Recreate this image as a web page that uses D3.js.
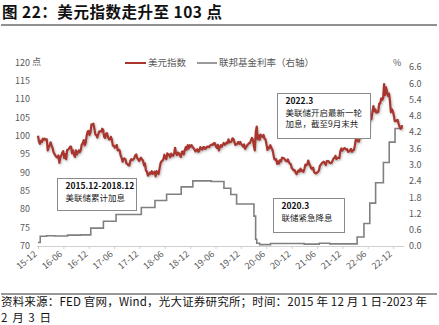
<!DOCTYPE html>
<html>
<head>
<meta charset="utf-8">
<script src="https://cdn.jsdelivr.net/npm/d3@7/dist/d3.min.js"></script>
<style>
  html, body { margin: 0; padding: 0; background: #fff; }
  svg { display: block; }
  text { font-family: "Noto Sans CJK SC", "Noto Sans", sans-serif; }
</style>
</head>
<body>
<svg id="chart" width="439" height="325"></svg>
<script>
// US dollar index, weekly (Tuesdays) from 2015-12-01
const dxy2015 = [100.0, 98.4, 97.8, 98.6, 98.3];
const dxy2016 = [
  99.2, 98.9, 99.2, 98.9,
  99.0, 96.0, 96.9, 97.4,
  98.2, 97.3, 96.6, 95.5, 95.0,
  94.5, 94.2, 94.0, 94.6,
  92.6, 94.1, 94.6, 95.4, 95.8,
  93.9, 95.0, 93.6, 96.1,
  96.2, 96.5, 97.0, 97.0,
  95.2, 96.0, 94.8, 94.2, 96.0,
  94.9, 95.4, 96.0, 95.5,
  96.1, 97.6, 97.9, 98.8,
  97.4, 98.0, 99.9, 101.1, 101.3,
  100.2, 100.9, 103.1, 103.0
];
const dxy2017 = [
  103.3, 101.9, 100.3, 100.2, 99.5,
  100.4, 101.2, 101.2, 101.1,
  101.9, 101.6, 99.7, 99.4,
  100.5, 100.7, 99.6, 99.0,
  99.0, 99.7, 98.9, 97.3, 97.3,
  96.7, 97.0, 97.5, 96.0,
  96.2, 96.0, 94.6, 94.0,
  92.9, 93.6, 93.8, 93.5, 92.4,
  92.3, 91.9, 91.9, 93.2,
  93.6, 93.3, 93.5, 93.9, 94.6,
  94.9, 93.9, 93.6, 93.1,
  93.6, 94.0, 93.5, 93.2
];
const dxy2018 = [
  91.9, 92.4, 90.5, 90.2, 89.1,
  89.4, 89.9, 89.6, 90.3,
  89.6, 89.8, 90.2, 88.9,
  90.3, 89.8, 89.5, 91.0,
  92.4, 93.0, 93.2, 93.6, 94.8,
  93.9, 93.6, 95.2, 94.7,
  94.8, 94.1, 95.1, 94.6, 94.5,
  95.1, 96.7, 95.2, 94.7,
  95.4, 95.2, 94.6, 94.2,
  95.6, 95.7, 94.9, 96.0, 96.9,
  96.2, 97.4, 96.5, 97.4,
  97.0, 97.4, 96.9, 96.6
];
const dxy2019 = [
  96.2, 95.7, 96.0, 96.3, 95.6,
  95.9, 96.9, 96.5, 96.2,
  96.9, 96.9, 96.4, 96.6,
  97.0, 97.0, 96.9, 97.3, 97.5,
  97.6, 97.5, 98.0, 97.9,
  97.1, 96.7, 97.5, 96.0,
  96.8, 97.4, 97.0, 97.6, 98.0,
  97.5, 97.7, 98.2, 98.0,
  99.0, 98.2, 98.3, 98.4,
  99.3, 99.1, 98.3, 97.5, 97.7,
  97.8, 98.3, 97.8, 98.3,
  97.7, 97.4, 97.0, 97.6, 96.4
];
const dxy2020 = [
  96.9, 97.3, 97.6, 98.0,
  98.0, 98.7, 99.4, 99.0,
  97.2, 96.0, 101.0, 102.5, 99.0,
  100.1, 98.9, 100.3, 99.9,
  99.7, 100.2, 99.2, 99.0,
  97.7, 96.1, 96.8, 96.6, 97.4,
  96.7, 96.3, 95.1, 93.7,
  93.4, 93.6, 92.3, 93.0,
  92.4, 93.3, 93.0, 94.0, 93.9,
  93.8, 93.5, 93.1, 93.0,
  93.5, 92.8, 92.4, 92.2,
  91.2, 90.9, 90.5, 90.6, 89.9
];
const dxy2021 = [
  89.5, 90.1, 90.5, 90.2,
  91.0, 90.4, 90.5, 90.1,
  90.9, 92.1, 91.9, 92.2, 93.2,
  92.3, 91.8, 91.1, 90.9,
  91.3, 90.1, 89.8, 89.7,
  89.9, 90.1, 90.5, 91.8, 92.1,
  92.5, 92.7, 92.9, 92.4,
  92.0, 93.0, 93.1, 93.0, 92.6,
  92.5, 92.6, 93.2, 93.8,
  94.0, 94.5, 93.6, 93.9,
  94.0, 93.9, 95.8, 96.5, 95.9,
  96.3, 96.6, 96.5, 96.2
];
const dxy2022 = [
  96.3, 95.6, 95.7, 96.0,
  96.4, 95.6, 96.0, 96.1,
  97.4, 99.1, 98.8, 98.5, 98.4,
  99.4, 100.3, 101.0, 102.3,
  103.4, 103.9, 103.3, 101.9, 101.8,
  102.3, 105.5, 104.4, 104.5,
  106.5, 108.1, 106.7, 107.2,
  106.3, 106.4, 106.5, 108.8, 108.8,
  110.2, 109.8, 110.2, 114.1,
  111.1, 113.2, 112.0, 110.9,
  111.5, 109.6, 106.4, 107.2, 106.7,
  105.6, 104.0, 104.0, 104.2
];
const dxy2023 = [104.3, 103.2, 102.4, 101.9, 102.1];
const dxyLast = { date: "2023-02-03", value: 102.9 };

// Effective federal funds rate, %, dated change points
const fedDates = [
  "2015-12-01", "2015-12-17", "2016-02-01", "2016-04-01", "2016-07-01", "2016-10-01",
  "2016-12-15", "2017-03-16", "2017-06-15", "2017-12-14", "2018-03-22", "2018-06-14",
  "2018-09-27", "2018-12-20", "2019-05-02", "2019-08-01", "2019-09-19", "2019-10-31",
  "2020-03-04", "2020-03-16", "2020-03-24", "2020-04-14", "2020-07-01", "2020-10-01",
  "2021-03-01", "2021-06-17", "2021-09-01", "2022-03-17", "2022-05-05", "2022-06-16",
  "2022-07-28", "2022-09-22", "2022-11-03", "2022-12-15", "2023-02-03"
];
const fedRates = [
  0.13, 0.36, 0.38, 0.37, 0.40, 0.41,
  0.66, 0.91, 1.16, 1.42, 1.68, 1.91,
  2.18, 2.40, 2.38, 2.13, 1.90, 1.55,
  1.10, 0.25, 0.10, 0.05, 0.09, 0.09,
  0.07, 0.10, 0.08, 0.33, 0.83, 1.58,
  2.33, 3.08, 3.83, 4.33, 4.33
];

const leftTicks = [70, 75, 80, 85, 90, 95, 100, 105, 110, 115, 120];
const rightTicks = [0.0, 0.6, 1.2, 1.8, 2.4, 3.0, 3.6, 4.2, 4.8, 5.4, 6.0, 6.6];
const xTickLabels = ["15-12", "16-06", "16-12", "17-06", "17-12", "18-06", "18-12",
  "19-06", "19-12", "20-06", "20-12", "21-06", "21-12", "22-06", "22-12"];

const titleText = "图 22：美元指数走升至 103 点";
const legendNames = ["美元指数", "联邦基金利率（右轴）"];
const sourceLines = [
  "资料来源：FED 官网，Wind，光大证券研究所；时间：2015 年 12 月 1 日-2023 年",
  "2 月 3 日"
];
// Callout boxes, top-left corner given as (date, index level)
const notes = [
  { date: "2016-04-16", value: 88.4, head: "2015.12-2018.12", body: ["美联储累计加息"], w: 79, h: 32 },
  { date: "2020-08-16", value: 111.8, head: "2022.3", body: ["美联储开启最新一轮", "加息，截至9月末共"], w: 93, h: 45 },
  { date: "2020-07-18", value: 83.0, head: "2020.3", body: ["联储紧急降息"], w: 71, h: 34 }
];

const parse = d3.timeParse("%Y-%m-%d");
const dxyStart = parse("2015-12-01");
const dxyValues = [].concat(dxy2015, dxy2016, dxy2017, dxy2018, dxy2019, dxy2020, dxy2021, dxy2022, dxy2023);
const dxy = dxyValues.map((v, i) => ({ date: d3.timeDay.offset(dxyStart, 7 * i), value: v }));
dxy.push({ date: parse(dxyLast.date), value: dxyLast.value });
const fed = fedDates.map((d, i) => ({ date: parse(d), value: fedRates[i] }));

const svg = d3.select("#chart");
const RED = "#a8362f";
const GREY = "#808080";
const AXIS_TXT = "#595959";

// Title and rules
svg.append("text").attr("x", 2).attr("y", 18)
  .attr("font-size", 15.5).attr("font-weight", "bold").attr("fill", "#111")
  .attr("textLength", 220).attr("lengthAdjust", "spacing")
  .text(titleText);
svg.append("line").attr("x1", 1).attr("x2", 437).attr("y1", 25).attr("y2", 25)
  .attr("stroke", "#222").attr("stroke-width", 1);
svg.append("line").attr("x1", 1).attr("x2", 437).attr("y1", 294).attr("y2", 294)
  .attr("stroke", "#333").attr("stroke-width", 1);
sourceLines.forEach((s, i) => {
  const t = svg.append("text").attr("x", 1).attr("y", 306 + i * 16)
    .attr("font-size", 11.5).attr("fill", "#111").text(s);
  if (i === 0) t.attr("textLength", 426).attr("lengthAdjust", "spacing");
  else t.attr("textLength", 50).attr("lengthAdjust", "spacing");
});

// Scales
const x = d3.scaleTime().domain([parse("2015-12-01"), parse("2023-02-03")]).range([38, 402]);
const yL = d3.scaleLinear().domain([70, 120]).range([245.5, 62.5]);
const yR = d3.scaleLinear().domain([0, 6.6]).range([246, 67]);

// Shadow under the dollar-index line
const defs = svg.append("defs");
const f = defs.append("filter").attr("id", "sh").attr("x", "-5%").attr("y", "-5%").attr("width", "110%").attr("height", "120%");
f.append("feDropShadow").attr("dx", 0.8).attr("dy", 1.2).attr("stdDeviation", 0.8)
  .attr("flood-color", "#555").attr("flood-opacity", 0.45);

// X axis
const xTicks = xTickLabels.map(s => d3.timeParse("%y-%m")(s));
const xAxis = d3.axisBottom(x).tickValues(xTicks).tickSize(3).tickFormat(d3.timeFormat("%y-%m"));
const gx = svg.append("g").attr("transform", "translate(0,246)").call(xAxis);
gx.select(".domain").attr("stroke", "#d0d0d0").attr("d", "M37,0.5H404");
gx.selectAll(".tick line").attr("stroke", "#d0d0d0");
gx.selectAll(".tick text")
  .attr("font-size", 9).attr("fill", AXIS_TXT)
  .attr("text-anchor", "end").attr("dy", 0).attr("y", 0)
  .attr("transform", "translate(-1,9) rotate(-40)");

// Left axis
const gl = svg.append("g").attr("transform", "translate(30,0)")
  .call(d3.axisLeft(yL).tickValues(leftTicks).tickSize(0).tickPadding(0));
gl.select(".domain").remove();
gl.selectAll("text").attr("font-size", 9).attr("fill", AXIS_TXT);
svg.append("text").attr("x", 32).attr("y", yL(120)).attr("dy", "0.32em")
  .attr("font-size", 9).attr("fill", AXIS_TXT).text("点");

// Right axis
const gr = svg.append("g").attr("transform", "translate(409,0)")
  .call(d3.axisRight(yR).tickValues(rightTicks).tickSize(0).tickPadding(0).tickFormat(d3.format(".1f")));
gr.select(".domain").remove();
gr.selectAll("text").attr("font-size", 9).attr("fill", AXIS_TXT);
svg.append("text").attr("x", 393).attr("y", 63).attr("dy", "0.32em")
  .attr("font-size", 9).attr("fill", AXIS_TXT).text("%");

// Fed funds rate (right axis)
svg.append("path").datum(fed)
  .attr("fill", "none").attr("stroke", GREY).attr("stroke-width", 1.6)
  .attr("d", d3.line().x(d => x(d.date)).y(d => yR(d.value)).curve(d3.curveStepAfter));

// Dollar index (left axis)
svg.append("path").datum(dxy)
  .attr("fill", "none").attr("stroke", RED).attr("stroke-width", 2.2).attr("stroke-linejoin", "round")
  .attr("filter", "url(#sh)")
  .attr("d", d3.line().x(d => x(d.date)).y(d => yL(d.value)));

// Legend
const leg = svg.append("g");
leg.append("line").attr("x1", 125).attr("x2", 146).attr("y1", 63).attr("y2", 63).attr("stroke", RED).attr("stroke-width", 2);
leg.append("text").attr("x", 148).attr("y", 63).attr("dy", "0.35em").attr("font-size", 9.5).attr("fill", AXIS_TXT).text(legendNames[0]);
leg.append("line").attr("x1", 197).attr("x2", 217).attr("y1", 63).attr("y2", 63).attr("stroke", GREY).attr("stroke-width", 1.6);
leg.append("text").attr("x", 219).attr("y", 63).attr("dy", "0.35em").attr("font-size", 9.5).attr("fill", AXIS_TXT).text(legendNames[1]);

// Annotation boxes
notes.forEach(n => {
  const bx = Math.round(x(parse(n.date))) + 0.5;
  const by = Math.round(yL(n.value)) + 0.5;
  const g = svg.append("g");
  g.append("rect").attr("x", bx).attr("y", by).attr("width", n.w).attr("height", n.h)
    .attr("fill", "#fff").attr("stroke", "#8a8a8a").attr("stroke-width", 1);
  g.append("text").attr("x", bx + 8).attr("y", by + 10.5)
    .attr("font-size", 8.5).attr("font-weight", "bold").attr("fill", "#111").text(n.head);
  n.body.forEach((t, i) => {
    g.append("text").attr("x", bx + 8).attr("y", by + 22 + i * 11)
      .attr("font-size", 8.5).attr("fill", "#222").text(t);
  });
});
</script>
</body>
</html>
